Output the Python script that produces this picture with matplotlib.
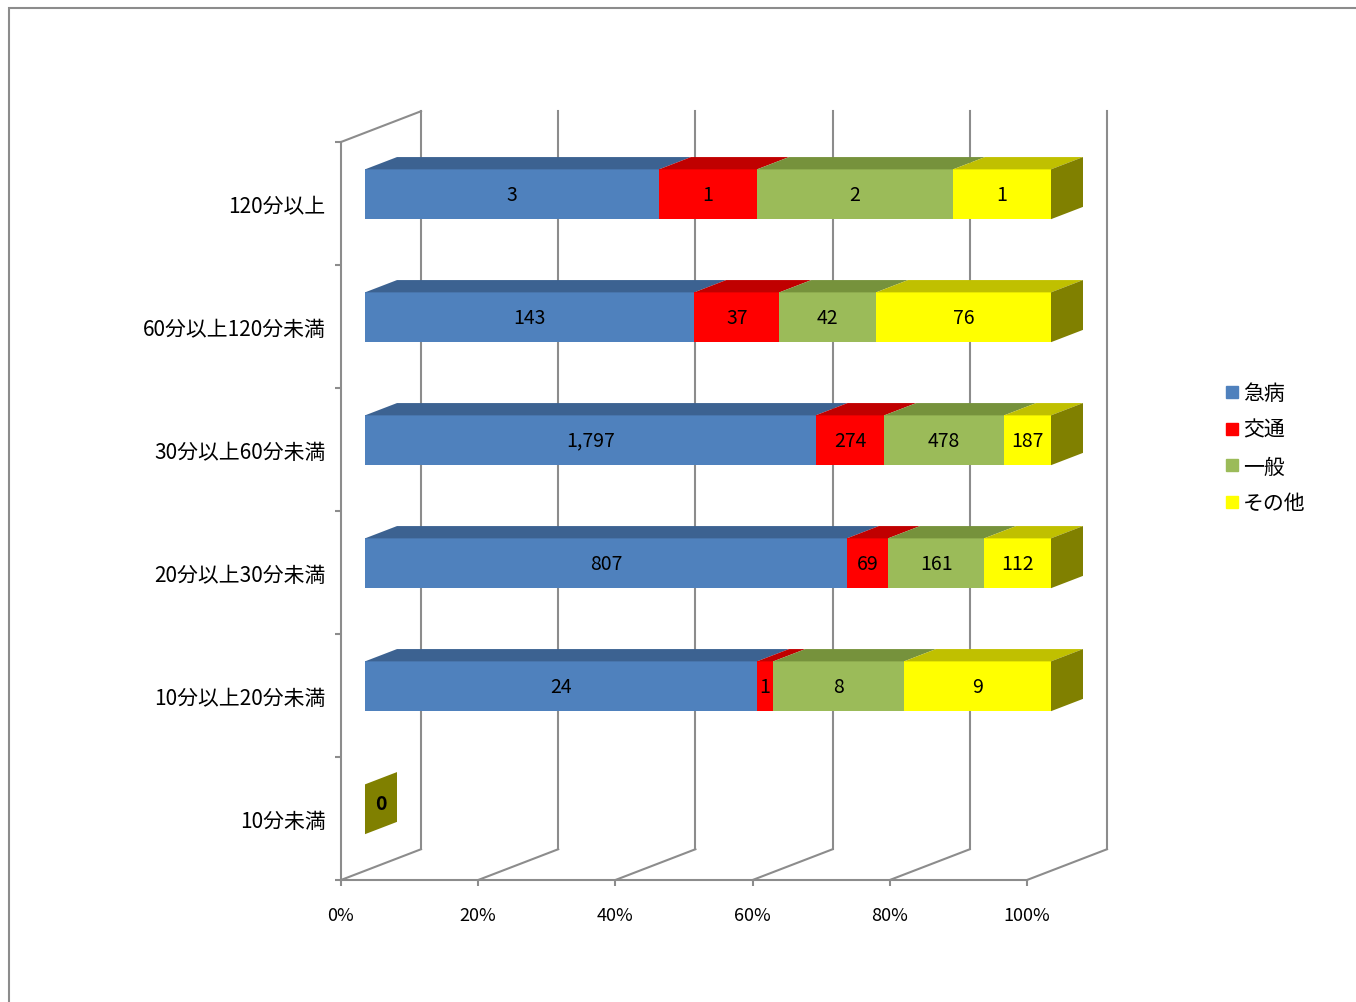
import matplotlib
matplotlib.use("Agg")
import matplotlib.pyplot as plt
from matplotlib.patches import Polygon, Rectangle
from matplotlib.lines import Line2D

plt.rcParams['font.family'] = ['Noto Sans CJK JP', 'DejaVu Sans']

# data (top row first)
categories = ["120分以上", "60分以上120分未満", "30分以上60分未満",
              "20分以上30分未満", "10分以上20分未満", "10分未満"]
series_names = ["急病", "交通", "一般", "その他"]
kyubyo = [3, 143, 1797, 807, 24, 0]
kotsu = [1, 37, 274, 69, 1, 0]
ippan = [2, 42, 478, 161, 8, 0]
sonota = [1, 76, 187, 112, 9, 0]
x_ticks = [0, 20, 40, 60, 80, 100]
x_ticklabels = ["0%", "20%", "40%", "60%", "80%", "100%"]

front_colors = ["#4F81BD", "#FF0000", "#9BBB59", "#FFFF00"]
top_colors = ["#3C6291", "#C00000", "#76923C", "#C0C000"]
side_color = "#808000"
grid_color = "#8C8C8C"

# 3d look: full depth of the plot box, in data units
DX, DY = 11.66, 0.25
F0 = 0.3      # bar front at 30% of depth
BD = 0.4      # bar depth as fraction of full depth
H = 0.405     # bar thickness

W, Hpx = 1356, 1003
fig = plt.figure(figsize=(W / 100, Hpx / 100), dpi=100)
fig.add_artist(Rectangle((9 / W, -0.05), 1.2, 1 - 9 / Hpx + 0.05,
                         transform=fig.transFigure, fill=False,
                         edgecolor="#8C8C8C", linewidth=1.5))

ax = fig.add_axes([341 / W, 122 / Hpx, 686 / W, 738 / Hpx])
n = len(categories)
ax.set_xlim(0, 100)
ax.set_ylim(0, n)

# walls / gridlines
for x in x_ticks:
    ax.plot([x + DX, x + DX], [DY, n + DY], color=grid_color, lw=1.5,
            clip_on=False, zorder=1)
    ax.plot([x, x + DX], [0, DY], color=grid_color, lw=1.5,
            clip_on=False, zorder=1)
ax.plot([0, DX], [n, n + DY], color=grid_color, lw=1.5, clip_on=False, zorder=1)

series = [kyubyo, kotsu, ippan, sonota]
for row, cat in enumerate(categories):
    yc = n - row - 0.5 + F0 * DY
    vals = [s[row] for s in series]
    total = sum(vals)
    left = F0 * DX
    bdx, bdy = BD * DX, BD * DY
    ytop, ybot = yc + H / 2, yc - H / 2
    for k, v in enumerate(vals):
        w = 100.0 * v / total if total else 0
        if w > 0:
            ax.barh(yc, w, left=left, height=H, color=front_colors[k],
                    clip_on=False, zorder=3)
            ax.add_patch(Polygon([(left, ytop), (left + w, ytop),
                                  (left + w + bdx, ytop + bdy),
                                  (left + bdx, ytop + bdy)],
                                 closed=True, facecolor=top_colors[k],
                                 edgecolor="none", clip_on=False, zorder=3))
            ax.text(left + w / 2, yc, f"{v:,}", ha="center", va="center",
                    fontsize=14, zorder=5)
        left += w
    ax.add_patch(Polygon([(left, ybot), (left, ytop),
                          (left + bdx, ytop + bdy), (left + bdx, ybot + bdy)],
                         closed=True, facecolor=side_color, edgecolor="none",
                         clip_on=False, zorder=3))
    if total == 0:
        ax.text(left + bdx / 2, yc + bdy / 2, "0", ha="center", va="center",
                fontsize=14, fontweight="bold", zorder=5)

# axes styling
for s in ["top", "right"]:
    ax.spines[s].set_visible(False)
for s in ["left", "bottom"]:
    ax.spines[s].set_color(grid_color)
    ax.spines[s].set_linewidth(1.5)
ax.set_xticks(x_ticks)
ax.set_xticklabels(x_ticklabels, fontsize=13)
ax.tick_params(axis="x", colors=grid_color, labelcolor="black",
               length=4, width=1.5, pad=15)
ax.set_yticks([n - i - 0.5 for i in range(n)])
ax.set_yticklabels(categories, fontsize=15)
ax.set_yticks(range(n + 1), minor=True)
ax.tick_params(axis="y", which="major", length=0, pad=11)
ax.tick_params(axis="y", which="minor", colors=grid_color, length=4, width=1.5)

handles = [Line2D([], [], marker="s", linestyle="none", markersize=8,
                  markerfacecolor=c, markeredgecolor=c) for c in front_colors]
fig.legend(handles, series_names, loc="upper left",
           bbox_to_anchor=(1215 / W, 1 - 375 / Hpx), frameon=False,
           fontsize=15, handlelength=0.8, handletextpad=0.15,
           labelspacing=0.7, borderaxespad=0)

fig.savefig("out.png", dpi=100)
